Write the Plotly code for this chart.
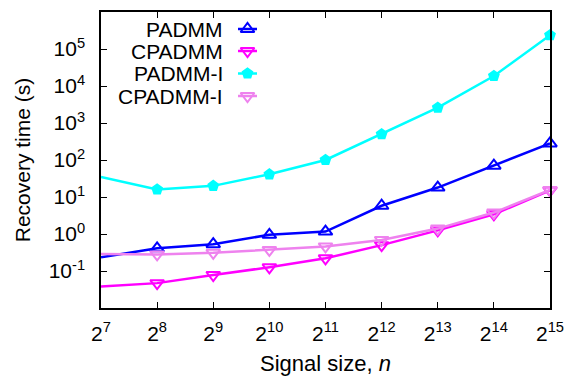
import plotly.graph_objects as go

# Signal sizes n = 2^7 ... 2^15
exponents = [7, 8, 9, 10, 11, 12, 13, 14, 15]
signal_size = [2 ** e for e in exponents]

# Recovery time in seconds for each method
padmm = [0.234, 0.41, 0.53, 0.95, 1.16, 5.8, 18, 70, 280]
cpadmm = [0.038, 0.047, 0.078, 0.126, 0.22, 0.50, 1.25, 3.4, 15]
padmm_i = [35, 16, 20, 41, 100, 500, 2600, 18600, 235000]
cpadmm_i = [0.29, 0.28, 0.31, 0.37, 0.46, 0.69, 1.4, 3.8, 15.5]

series_names = ["PADMM", "CPADMM", "PADMM-I", "CPADMM-I"]
series_values = [padmm, cpadmm, padmm_i, cpadmm_i]

y_tick_exponents = [-1, 0, 1, 2, 3, 4, 5]

styles = [
    dict(color="#0000ff", symbol="triangle-up-open", size=12),
    dict(color="#ff00ff", symbol="triangle-down-open", size=12),
    dict(color="#00ffff", symbol="pentagon", size=10),
    dict(color="#ee82ee", symbol="triangle-down-open", size=12),
]

FONT = "Liberation Sans, Arial, Helvetica, sans-serif"
FS = 21
FS_TEXT = 22
W, H = 567, 376
L, R, T, B = 101, 17, 12, 68

fig = go.Figure()

for name, vals, st in zip(series_names, series_values, styles):
    fig.add_trace(go.Scatter(
        x=signal_size, y=vals, name=name, mode="lines+markers",
        line=dict(color=st["color"], width=2.5),
        marker=dict(symbol=st["symbol"], size=st["size"], color=st["color"],
                    line=dict(color=st["color"], width=2)),
        showlegend=False, cliponaxis=False,
    ))

# Key drawn gnuplot-style: label text on the left, sample on the right.
# An overlay axis in pixel units holds the key samples.
plot_w = W - L - R
plot_h = H - T - B
key_text_right = 224
key_sample = (238, 257)
key_rows = [29, 51, 73.5, 96]
for name, st, ry in zip(series_names, styles, key_rows):
    fig.add_trace(go.Scatter(
        x=[key_sample[0], (key_sample[0] + key_sample[1]) / 2, key_sample[1]],
        y=[ry, ry, ry], mode="lines", xaxis="x2", yaxis="y2",
        line=dict(color=st["color"], width=2.5), showlegend=False, hoverinfo="skip",
    ))
    fig.add_trace(go.Scatter(
        x=[(key_sample[0] + key_sample[1]) / 2], y=[ry], mode="markers",
        xaxis="x2", yaxis="y2",
        marker=dict(symbol=st["symbol"], size=st["size"], color=st["color"],
                    line=dict(color=st["color"], width=2)),
        showlegend=False, hoverinfo="skip",
    ))
    fig.add_annotation(
        x=(key_text_right - L) / plot_w, y=1 - (ry - T) / plot_h,
        xref="paper", yref="paper", text=name, showarrow=False,
        xanchor="right", yanchor="middle", borderpad=0,
        font=dict(family=FONT, size=FS, color="black"),
    )

axis_common = dict(
    showline=True, linecolor="black", linewidth=1.5, mirror="allticks",
    ticks="inside", ticklen=6, tickwidth=1.2, tickcolor="black",
    showgrid=False, zeroline=False, automargin=False,
    tickfont=dict(family=FONT, size=FS, color="black"),
)

fig.update_layout(
    width=W, height=H,
    margin=dict(l=L, r=R, t=T, b=B),
    paper_bgcolor="white", plot_bgcolor="white",
    xaxis=dict(
        type="log", range=[7 * 0.30103, 15 * 0.30103],
        tickvals=signal_size,
        ticktext=[f"2<sup>{e}</sup>" for e in exponents],
        ticklabelstandoff=6,
        title=dict(text="Signal size, <i>n</i>", font=dict(family=FONT, size=FS_TEXT, color="black"),
                   standoff=12),
        **axis_common,
    ),
    yaxis=dict(
        type="log", range=[-2, 6],
        tickvals=[10.0 ** e for e in y_tick_exponents],
        ticktext=[f"10<sup>{e}</sup>" for e in y_tick_exponents],
        ticklabelstandoff=10,
        title=dict(text="Recovery time (s)", font=dict(family=FONT, size=FS, color="black"),
                   standoff=12),
        **axis_common,
    ),
    xaxis2=dict(overlaying="x", range=[L, W - R], visible=False, fixedrange=True),
    yaxis2=dict(overlaying="y", range=[H - B, T], visible=False, fixedrange=True),
    showlegend=False,
)

fig.write_html("out.html")
